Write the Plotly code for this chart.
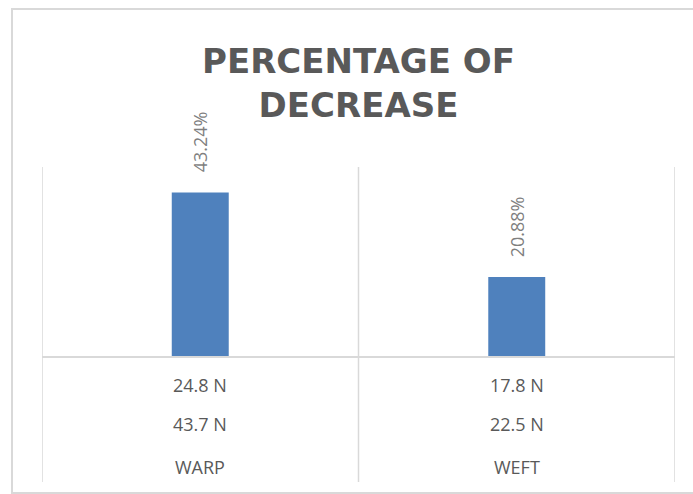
import plotly.graph_objects as go

# Tensile strength loss per yarn direction
categories = ["WARP", "WEFT"]
strength_before = ["43.7 N", "22.5 N"]
strength_after = ["24.8 N", "17.8 N"]
decrease_pct = [43.24, 20.88]

BAR_BLUE = "#4f81bd"
GRID = "#d9d9d9"
LABEL_GRAY = "#595959"
VALUE_GRAY = "#7f7f7f"
FONT = "Open Sans"
TITLE_FONT = "DejaVu Sans"

fig = go.Figure(
    go.Bar(
        x=categories,
        y=decrease_pct,
        marker=dict(color=BAR_BLUE, line=dict(width=0)),
        hoverinfo="skip",
    )
)

# Rotated value labels sitting above each bar
for cat, val in zip(categories, decrease_pct):
    fig.add_annotation(
        x=cat, y=val, xref="x", yref="y",
        text=f"{val:.2f}%",
        textangle=-90,
        showarrow=False,
        xanchor="center", yanchor="bottom",
        yshift=18,
        font=dict(family=FONT, size=18, color=VALUE_GRAY),
    )

# Three-row category labels under the axis
rows = [strength_after, strength_before, categories]
row_pos = [-0.153, -0.36, -0.587]
for labels, ypos in zip(rows, row_pos):
    for cat, lab in zip(categories, labels):
        fig.add_annotation(
            x=cat, y=ypos, xref="x", yref="paper",
            text=lab, showarrow=False,
            xanchor="center", yanchor="middle",
            font=dict(family=FONT, size=18, color=LABEL_GRAY),
        )

# Category boundary separators, running from the top of the plot down
# through the label rows
n = len(categories)
for b in range(n + 1):
    fig.add_shape(
        type="line", xref="x", yref="paper",
        x0=b - 0.5, x1=b - 0.5, y0=-0.667, y1=1,
        line=dict(color=GRID, width=1.5), layer="below",
    )

# Chart-area frame
fig.add_shape(
    type="rect", xref="paper", yref="paper",
    x0=-0.0474, x1=1.1, y0=-0.725, y1=1.836,
    line=dict(color=GRID, width=2), fillcolor="rgba(0,0,0,0)",
    layer="below",
)

fig.update_layout(
    width=693, height=494,
    margin=dict(l=42, r=18, t=167, b=138),
    paper_bgcolor="white", plot_bgcolor="white",
    bargap=0.82,
    showlegend=False,
    title=dict(
        text="<b>PERCENTAGE OF<br>DECREASE</b>",
        x=0.5, xref="paper", xanchor="center",
        y=0.852, yref="container", yanchor="top",
        font=dict(family=TITLE_FONT, size=34, color=LABEL_GRAY),
    ),
    xaxis=dict(
        type="category",
        range=[-0.5, n - 0.5],
        showgrid=False,
        ticks="",
        showticklabels=False,
        showline=True, linecolor=GRID, linewidth=1.5,
        zeroline=False,
    ),
    yaxis=dict(
        range=[0, 50],
        showgrid=False, zeroline=False, showline=False,
        showticklabels=False, ticks="",
    ),
)

fig.write_html("out.html")
